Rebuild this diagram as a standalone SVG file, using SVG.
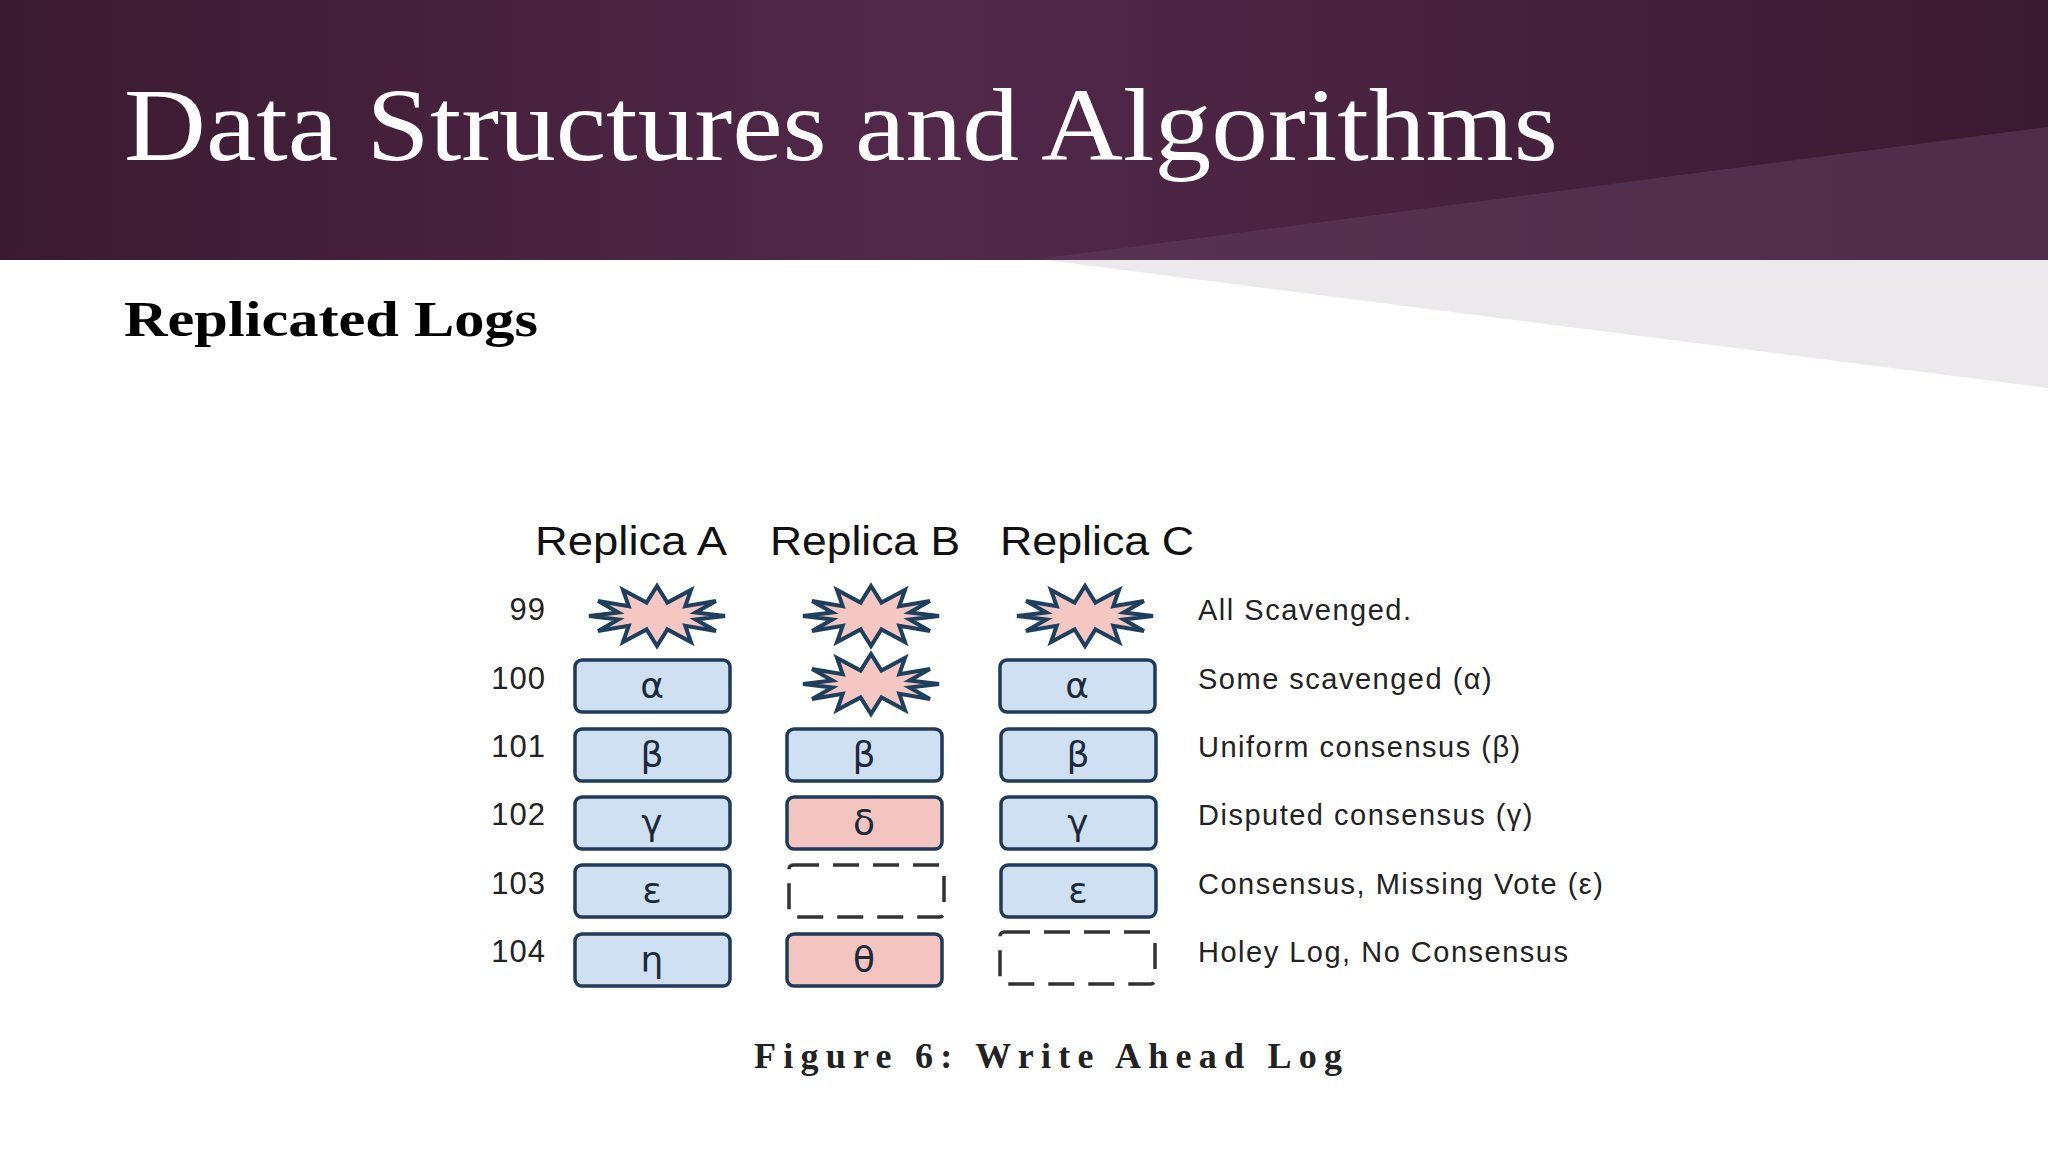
<svg xmlns="http://www.w3.org/2000/svg" width="2048" height="1152" viewBox="0 0 2048 1152">
<defs>
<linearGradient id="band" x1="0" y1="0" x2="1" y2="0">
<stop offset="0" stop-color="#3a1a30"/><stop offset="0.45" stop-color="#52284a"/><stop offset="1" stop-color="#3a1a30"/>
</linearGradient>
<polygon id="star" points="68,0 38.6,3.6 58.9,15 28.3,9.9 34,26 10.4,13.5 0,30 -10.4,13.5 -34,26 -28.3,9.9 -58.9,15 -38.6,3.6 -68,0 -38.6,-3.6 -58.9,-15 -28.3,-9.9 -34,-26 -10.4,-13.5 0,-30 10.4,-13.5 34,-26 28.3,-9.9 58.9,-15 38.6,-3.6"/>
<style>
.hd{font-family:"Liberation Sans",Arial,sans-serif;font-size:40px;fill:#111}
.num{font-family:"Liberation Sans",Arial,sans-serif;font-size:31px;fill:#222;text-anchor:end;letter-spacing:1px}
.lbl{font-family:"Liberation Sans",Arial,sans-serif;font-size:29px;fill:#222;letter-spacing:1.5px}
.gk{font-family:"DejaVu Sans","Liberation Sans",sans-serif;font-size:36px;fill:#1a2a3a;text-anchor:middle}
.box{fill:#cfe0f3;stroke:#1f3a5a;stroke-width:3.5}
.pink{fill:#f4c4c0;stroke:#1f3a5a;stroke-width:3.5}
.dash{fill:#fff;stroke:#333;stroke-width:3.5;stroke-dasharray:26,14}
.st{fill:#f4c7c3;stroke:#1f3f5f;stroke-width:4;stroke-linejoin:miter}
</style>
</defs>
<rect width="2048" height="1152" fill="#fff"/>
<rect width="2048" height="260" fill="url(#band)"/>
<polygon points="1030,260 2048,127 2048,260" fill="#5e3a58" opacity="0.6"/>
<polygon points="1045,260 2048,260 2048,388" fill="#ebe9ec"/>
<text x="124" y="160" font-family="Liberation Serif,serif" font-size="104" fill="#fff" textLength="1434" lengthAdjust="spacingAndGlyphs">Data Structures and Algorithms</text>
<text x="124" y="336" font-family="Liberation Serif,serif" font-weight="bold" font-size="50" fill="#000" textLength="414" lengthAdjust="spacingAndGlyphs">Replicated Logs</text>
<g id="headers">
<text class="hd" x="535" y="555" textLength="192" lengthAdjust="spacingAndGlyphs">Replica A</text>
<text class="hd" x="770" y="555" textLength="190" lengthAdjust="spacingAndGlyphs">Replica B</text>
<text class="hd" x="1000" y="555" textLength="194" lengthAdjust="spacingAndGlyphs">Replica C</text>
</g>
<g id="numbers">
<text class="num" x="546" y="620">99</text>
<text class="num" x="546" y="689">100</text>
<text class="num" x="546" y="757">101</text>
<text class="num" x="546" y="825">102</text>
<text class="num" x="546" y="894">103</text>
<text class="num" x="546" y="962">104</text>
</g>
<g id="replicaA">
<use href="#star" class="st" transform="translate(657,616)"/>
<rect class="box" x="575" y="660" width="155" height="52" rx="7"/><text class="gk" x="652" y="698">α</text>
<rect class="box" x="575" y="729" width="155" height="52" rx="7"/><text class="gk" x="652" y="767">β</text>
<rect class="box" x="575" y="797" width="155" height="52" rx="7"/><text class="gk" x="652" y="835">γ</text>
<rect class="box" x="575" y="865" width="155" height="52" rx="7"/><text class="gk" x="652" y="903">ε</text>
<rect class="box" x="575" y="934" width="155" height="52" rx="7"/><text class="gk" x="652" y="972">η</text>
</g>
<g id="replicaB">
<use href="#star" class="st" transform="translate(871,616)"/>
<use href="#star" class="st" transform="translate(871,684)"/>
<rect class="box" x="787" y="729" width="155" height="52" rx="7"/><text class="gk" x="864" y="767">β</text>
<rect class="pink" x="787" y="797" width="155" height="52" rx="7"/><text class="gk" x="864" y="835">δ</text>
<rect class="dash" x="789" y="865" width="155" height="52" rx="4"/>
<rect class="pink" x="787" y="934" width="155" height="52" rx="7"/><text class="gk" x="864" y="972">θ</text>
</g>
<g id="replicaC">
<use href="#star" class="st" transform="translate(1085,616)"/>
<rect class="box" x="1000" y="660" width="155" height="52" rx="7"/><text class="gk" x="1077" y="698">α</text>
<rect class="box" x="1001" y="729" width="155" height="52" rx="7"/><text class="gk" x="1078" y="767">β</text>
<rect class="box" x="1001" y="797" width="155" height="52" rx="7"/><text class="gk" x="1078" y="835">γ</text>
<rect class="box" x="1001" y="865" width="155" height="52" rx="7"/><text class="gk" x="1078" y="903">ε</text>
<rect class="dash" x="1000" y="932" width="155" height="52" rx="4"/>
</g>
<g id="labels">
<text class="lbl" x="1198" y="620">All Scavenged.</text>
<text class="lbl" x="1198" y="689">Some scavenged (α)</text>
<text class="lbl" x="1198" y="757">Uniform consensus (β)</text>
<text class="lbl" x="1198" y="825">Disputed consensus (γ)</text>
<text class="lbl" x="1198" y="894">Consensus, Missing Vote (ε)</text>
<text class="lbl" x="1198" y="962">Holey Log, No Consensus</text>
</g>
<g id="connectors"/>
<text x="754" y="1068" font-family="Liberation Serif,serif" font-weight="bold" font-size="36" fill="#222" textLength="588" lengthAdjust="spacing">Figure 6: Write Ahead Log</text>
</svg>
